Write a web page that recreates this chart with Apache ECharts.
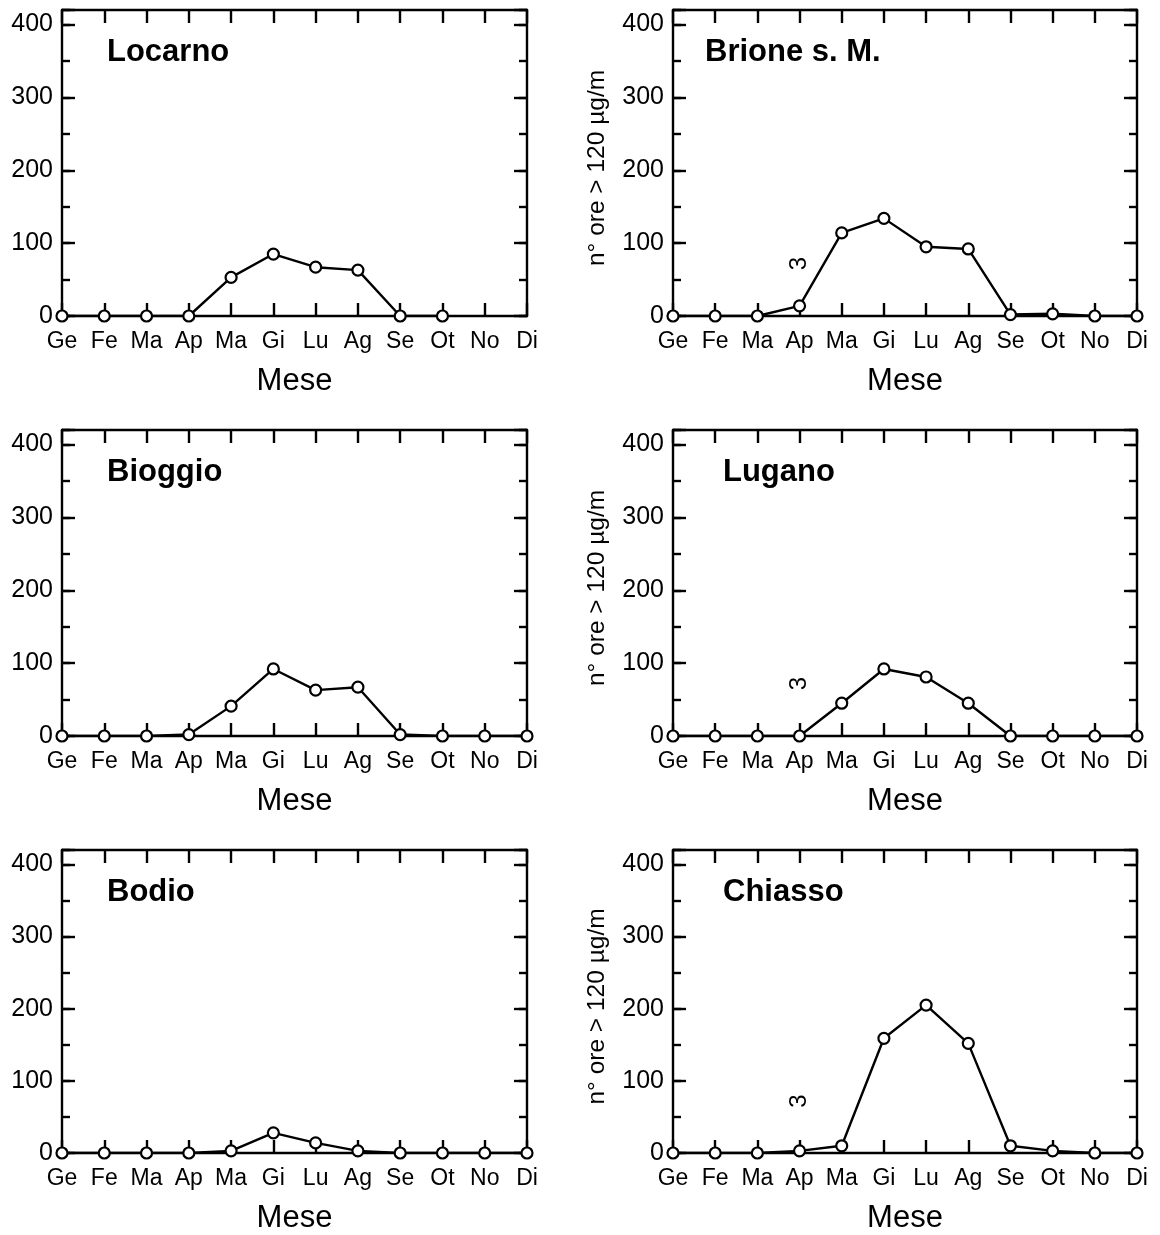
<!DOCTYPE html>
<html>
<head>
<meta charset="utf-8">
<script src="https://cdn.jsdelivr.net/npm/echarts@6/dist/echarts.min.js"></script>
<style>
html,body{margin:0;padding:0;background:#fff;}
#chart{width:1160px;height:1235px;}
</style>
</head>
<body>
<div id="chart"></div>
<script>
const months = ['Ge','Fe','Ma','Ap','Ma','Gi','Lu','Ag','Se','Ot','No','Di'];
const stations = ['Locarno','Brione s. M.','Bioggio','Lugano','Bodio','Chiasso'];
const locarno = [0,0,0,0,53,85,67,63,0,0,null,null];
const brione  = [0,0,0,14,114,134,95,92,2,3,0,0];
const bioggio = [0,0,0,2,41,92,63,67,2,0,0,0];
const lugano  = [0,0,0,0,45,92,81,45,0,0,0,0];
const bodio   = [0,0,0,0,3,28,14,3,0,0,0,0];
const chiasso = [0,0,0,3,10,159,205,152,10,3,0,0];
const seriesValues = [locarno, brione, bioggio, lugano, bodio, chiasso];
const yMin = 0, yMax = 420, yMajor = 100, yMinor = 50;
const yTitle = 'n° ore > 120 µg/m';
const xTitle = 'Mese';
const superscriptNote = '3';
const notePoint = [3, 72];

const FONT = 'Liberation Sans, Arial, Helvetica, sans-serif';
const chart = echarts.init(document.getElementById('chart'), null, {renderer:'canvas'});

const colLeft = [62, 673];
const colWidth = [465, 464];
const rowTop = [10, 430, 850];
const plotH = 306;
const titleLeft = [107, 705, 107, 723, 107, 723];
const LW = 2.4;

const grids = [], xAxes = [], yAxes = [], series = [], titles = [];
stations.forEach((name, i) => {
  const col = i % 2, row = Math.floor(i / 2);
  grids.push({left: colLeft[col], top: rowTop[row], width: colWidth[col], height: plotH, containLabel: false});
  const line = {show: true, onZero: false, lineStyle: {color: '#000', width: LW}};
  xAxes.push({
    gridIndex: i, type: 'category', data: months, boundaryGap: false, position: 'bottom',
    axisLine: line,
    axisTick: {show: true, inside: true, length: 13, lineStyle: {color: '#000', width: LW}},
    axisLabel: {show: true, color: '#000', fontFamily: FONT, fontSize: 23, margin: 14, interval: 0},
    splitLine: {show: false},
    name: xTitle, nameLocation: 'middle', nameGap: 50,
    nameTextStyle: {color: '#000', fontFamily: FONT, fontSize: 31}
  });
  xAxes.push({
    gridIndex: i, type: 'category', data: months, boundaryGap: false, position: 'top',
    axisLine: line,
    axisTick: {show: true, inside: true, length: 13, lineStyle: {color: '#000', width: LW}},
    axisLabel: {show: false}, splitLine: {show: false}
  });
  const baseY = {gridIndex: i, type: 'value', min: yMin, max: yMax, splitLine: {show: false}};
  yAxes.push(Object.assign({}, baseY, {
    position: 'left', interval: yMajor, axisLine: line,
    axisTick: {show: true, inside: true, length: 13, lineStyle: {color: '#000', width: LW}},
    axisLabel: {show: true, color: '#000', fontFamily: FONT, fontSize: 25, margin: 9,
      formatter: v => (v % yMajor === 0 ? String(v) : '')},
    name: col === 1 ? yTitle : '', nameLocation: 'middle', nameGap: 63, nameRotate: 90,
    nameTextStyle: {color: '#000', fontFamily: FONT, fontSize: 24.5, padding: [0, 10, 0, 0]}
  }));
  yAxes.push(Object.assign({}, baseY, {
    position: 'left', interval: yMinor, axisLine: {show: false},
    axisTick: {show: true, inside: true, length: 8, lineStyle: {color: '#000', width: LW}},
    axisLabel: {show: false}
  }));
  yAxes.push(Object.assign({}, baseY, {
    position: 'right', interval: yMajor, axisLine: line,
    axisTick: {show: true, inside: true, length: 13, lineStyle: {color: '#000', width: LW}},
    axisLabel: {show: false}
  }));
  yAxes.push(Object.assign({}, baseY, {
    position: 'right', interval: yMinor, axisLine: {show: false},
    axisTick: {show: true, inside: true, length: 8, lineStyle: {color: '#000', width: LW}},
    axisLabel: {show: false}
  }));
  titles.push({
    text: name, left: titleLeft[i], top: rowTop[row] + 27, padding: 0,
    textStyle: {color: '#000', fontFamily: FONT, fontSize: 31, fontWeight: 'bold'}
  });
  const s = {
    type: 'line', xAxisIndex: i * 2, yAxisIndex: i * 4, data: seriesValues[i],
    symbol: 'circle', symbolSize: 11, showAllSymbol: true, connectNulls: false,
    lineStyle: {color: '#000', width: LW},
    itemStyle: {color: '#fff', borderColor: '#000', borderWidth: 2.2},
    z: 5, animation: false, silent: true
  };
  if (col === 1) {
    s.markPoint = {
      symbol: 'circle', symbolSize: 0, animation: false, silent: true,
      data: [{coord: notePoint, value: superscriptNote}],
      label: {show: true, position: 'inside', rotate: 90, formatter: superscriptNote,
        color: '#000', fontFamily: FONT, fontSize: 24}
    };
  }
  series.push(s);
});

chart.setOption({
  animation: false,
  backgroundColor: '#fff',
  textStyle: {fontFamily: FONT},
  title: titles,
  grid: grids,
  xAxis: xAxes,
  yAxis: yAxes,
  series: series
});
</script>
</body>
</html>
